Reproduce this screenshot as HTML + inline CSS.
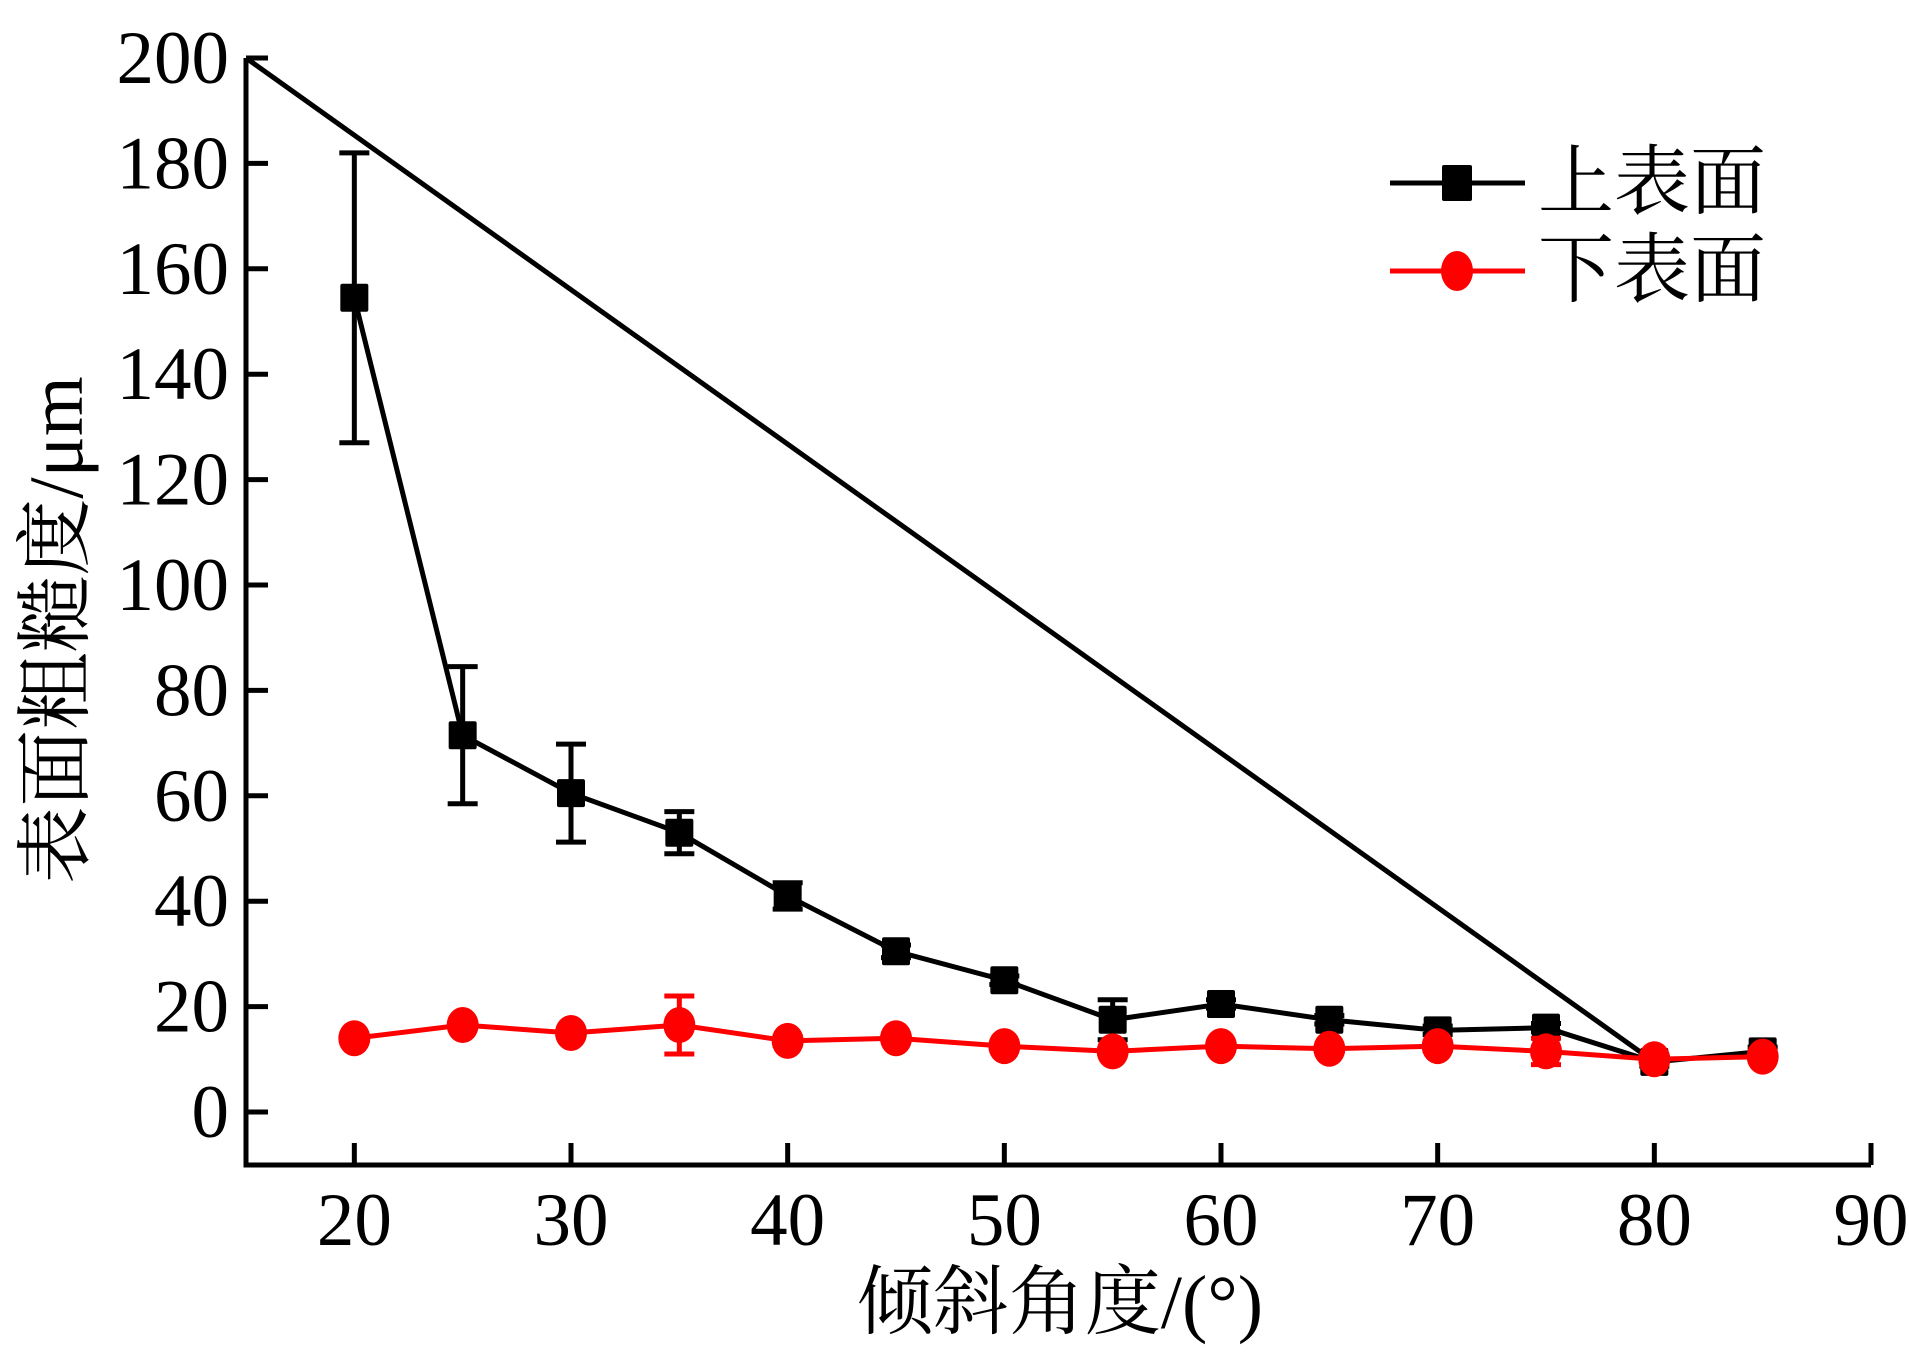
<!DOCTYPE html>
<html><head><meta charset="utf-8"><style>
body{margin:0;background:#fff;}
svg{display:block;}
text{font-family:"Liberation Serif","Noto Serif CJK SC",serif;fill:#000;}
</style></head><body>
<svg id="chart" width="1909" height="1353" viewBox="0 0 1909 1353" xmlns="http://www.w3.org/2000/svg"></svg>
<script>
const xTicks = [20, 30, 40, 50, 60, 70, 80, 90];
const yTicks = [0, 20, 40, 60, 80, 100, 120, 140, 160, 180, 200];
const angles = [20, 25, 30, 35, 40, 45, 50, 55, 60, 65, 70, 75, 80, 85];
const upperValues = [154.5, 71.5, 60.5, 53, 41, 30.5, 25, 17.5, 20.5, 17.5, 15.5, 16, 9.5, 11.5];
const upperErr = [27.5, 13, 9.3, 4, 2.5, 1.2, 0.8, 3.8, 0.8, 0.8, 0.8, 0.8, 0.8, 0.8];
const lowerValues = [14, 16.5, 15, 16.5, 13.5, 14, 12.5, 11.5, 12.5, 12, 12.5, 11.5, 10, 10.5];
const lowerErr = [0.5, 0.5, 0.5, 5.5, 0.8, 0.5, 0.5, 0.5, 0.5, 0.5, 0.8, 2.5, 0.5, 0.5];
const diagLine = [[15, 200], [80, 9.5]];

const svg = document.getElementById('chart');
const NS = 'http://www.w3.org/2000/svg';
const X0 = 246, X1 = 1871, Y0 = 1165, Y1 = 58;
const xMin = 15, xMax = 90;
function xs(v){ return X0 + (v - xMin) / (xMax - xMin) * (X1 - X0); }
function ys(v){ return 1112 - v * (1112 - Y1) / 200; }
function mk(tag, attrs, parent){
  const el = document.createElementNS(NS, tag);
  for (const k in attrs) el.setAttribute(k, attrs[k]);
  (parent || svg).appendChild(el);
  return el;
}

let ax = mk('path', {d:`M${X0},${Y1} L${X0},${Y0} L${X1},${Y0}`, fill:'none', stroke:'#000', 'stroke-width':5});



yTicks.forEach(t => {
  const y = ys(t);
  let tk = mk('line', {x1:X0, x2:X0+22, y1:y, y2:y, stroke:'#000', 'stroke-width':5});
  
  
  let lb = mk('text', {x:229, y:y+25, 'text-anchor':'end', 'font-size':75});
  lb.textContent = t;
  
  
});
xTicks.forEach(t => {
  const x = xs(t);
  let tk = mk('line', {x1:x, x2:x, y1:Y0, y2:Y0-22, stroke:'#000', 'stroke-width':5});
  
  
  let lb = mk('text', {x:x, y:1245, 'text-anchor':'middle', 'font-size':75});
  lb.textContent = t;
  
  
});

let xt = mk('text', {x:1060, y:1328, 'text-anchor':'middle', 'font-size':76});
xt.textContent = '倾斜角度/(°)';


let yt = mk('text', {x:0, y:0, 'text-anchor':'middle', 'font-size':77, transform:'translate(82,630) rotate(-90)'});
yt.textContent = '表面粗糙度/μm';



let dl = mk('line', {x1:xs(diagLine[0][0]), y1:ys(diagLine[0][1]), x2:xs(diagLine[1][0]), y2:ys(diagLine[1][1]), stroke:'#000', 'stroke-width':5});



function series(vals, errs, color, shape, name){
  const g = mk('g', {});
  
  
  const pts = angles.map((a,i)=>xs(a)+','+ys(vals[i])).join(' ');
  const pl = mk('polyline', {points:pts, fill:'none', stroke:color, 'stroke-width':5}, g);
  
  
  angles.forEach((a,i)=>{
    const x = xs(a), yt2 = ys(vals[i]+errs[i]), yb = ys(vals[i]-errs[i]);
    const e = mk('path', {d:`M${x},${yt2} L${x},${yb} M${x-15},${yt2} L${x+15},${yt2} M${x-15},${yb} L${x+15},${yb}`, stroke:color, 'stroke-width':5, fill:'none'}, g);
    
    
    let m;
    if (shape === 'sq') m = mk('rect', {x:x-14, y:ys(vals[i])-14, width:28, height:28, rx:2, fill:color}, g);
    else m = mk('ellipse', {cx:x, cy:ys(vals[i]), rx:16, ry:18, fill:color}, g);
    
    
  });
}
series(upperValues, upperErr, '#000', 'sq', 'upper-surface');
series(lowerValues, lowerErr, '#ff0000', 'ci', 'lower-surface');

const lg = mk('g', {});


let l1 = mk('line', {x1:1390, x2:1525, y1:183, y2:183, stroke:'#000', 'stroke-width':5}, lg);


let s1 = mk('rect', {x:1442, y:165, width:30, height:36, rx:2, fill:'#000'}, lg);


let t1 = mk('text', {x:1538, y:208, 'font-size':76}, lg);
t1.textContent = '上表面';


let l2 = mk('line', {x1:1390, x2:1525, y1:271, y2:271, stroke:'#ff0000', 'stroke-width':5}, lg);


let s2 = mk('ellipse', {cx:1457, cy:271, rx:16, ry:20, fill:'#ff0000'}, lg);


let t2 = mk('text', {x:1538, y:296, 'font-size':76}, lg);
t2.textContent = '下表面';


</script>
</body></html>
